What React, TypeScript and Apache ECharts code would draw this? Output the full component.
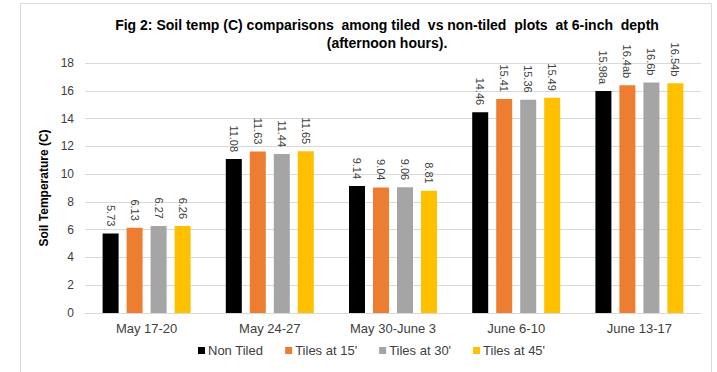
import React, { useEffect, useRef } from "react";
import * as echarts from "echarts";

const categories = ["May 17-20", "May 24-27", "May 30-June 3", "June 6-10", "June 13-17"];
const seriesNames = ["Non Tiled", "Tiles at 15'", "Tiles at 30'", "Tiles at 45'"];
const nonTiled = [5.73, 11.08, 9.14, 14.46, 15.98];
const tiles15 = [6.13, 11.63, 9.04, 15.41, 16.4];
const tiles30 = [6.27, 11.44, 9.06, 15.36, 16.6];
const tiles45 = [6.26, 11.65, 8.81, 15.49, 16.54];
const nonTiledLabels = ["5.73", "11.08", "9.14", "14.46", "15.98a"];
const tiles15Labels = ["6.13", "11.63", "9.04", "15.41", "16.4ab"];
const tiles30Labels = ["6.27", "11.44", "9.06", "15.36", "16.6b"];
const tiles45Labels = ["6.26", "11.65", "8.81", "15.49", "16.54b"];
const colors = ["#000000", "#ED7D31", "#A5A5A5", "#FFC000"];

const FONT = "'Liberation Sans', Arial, sans-serif";

export default function App() {
  const ref = useRef<HTMLDivElement>(null);
  useEffect(() => {
    document.body.style.margin = "0";
    const chart = echarts.init(ref.current!, null, { renderer: "svg" });
    const values = [nonTiled, tiles15, tiles30, tiles45];
    const labels = [nonTiledLabels, tiles15Labels, tiles30Labels, tiles45Labels];
    chart.setOption({
      animation: false,
      backgroundColor: "#ffffff",
      textStyle: { fontFamily: FONT },
      title: {
        text: "Fig 2: Soil temp (C) comparisons  among tiled  vs non-tiled  plots  at 6-inch  depth\n(afternoon hours).",
        left: 382,
        textAlign: "center",
        top: 11,
        textStyle: { fontSize: 14, fontWeight: "bold", color: "#000000", lineHeight: 18, fontFamily: FONT },
      },
      graphic: [
        {
          type: "rect",
          shape: { x: 20.5, y: 3.5, width: 691, height: 400 },
          style: { fill: "none", stroke: "#d9d9d9", lineWidth: 1 },
          silent: true,
        },
      ],
      legend: {
        data: seriesNames,
        bottom: 10,
        left: 193,
        itemWidth: 7,
        itemHeight: 7,
        itemGap: 22,
        icon: "rect",
        textStyle: { fontSize: 13, color: "#404040", fontFamily: FONT, padding: [0, 0, 0, -2] },
      },
      grid: { left: 85, right: 16, top: 63, bottom: 59 },
      xAxis: {
        type: "category",
        data: categories,
        axisLine: { lineStyle: { color: "#d9d9d9" } },
        axisTick: { show: false },
        axisLabel: { fontSize: 13, color: "#404040", margin: 9, fontFamily: FONT },
      },
      yAxis: {
        type: "value",
        min: 0,
        max: 18,
        interval: 2,
        name: "Soil Temperature (C)",
        nameLocation: "middle",
        nameGap: 33,
        nameTextStyle: { fontSize: 12, fontWeight: "bold", color: "#000000", fontFamily: FONT },
        axisLine: { show: false },
        axisTick: { show: false },
        axisLabel: { fontSize: 12, color: "#404040", margin: 11, fontFamily: FONT },
        splitLine: { lineStyle: { color: "#d9d9d9" } },
      },
      series: seriesNames.map((name, i) => ({
        name,
        type: "bar",
        data: values[i],
        barWidth: 16,
        barGap: "50%",
        itemStyle: { color: colors[i] },
        label: {
          show: true,
          position: "top",
          rotate: -90,
          align: "right",
          verticalAlign: "middle",
          distance: 7,
          fontSize: 11,
          color: "#404040",
          fontFamily: FONT,
          formatter: (p: any) => labels[i][p.dataIndex],
        },
      })),
    });
    return () => chart.dispose();
  }, []);
  return <div ref={ref} style={{ width: 717, height: 372 }} />;
}
